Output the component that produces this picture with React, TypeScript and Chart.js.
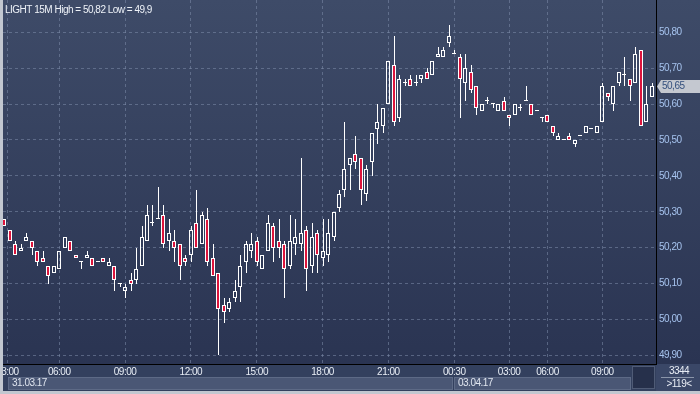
import React, { useEffect, useRef } from "react";
import { Chart, registerables } from "chart.js";

Chart.register(...registerables);

// ---- DATA (15-minute candles, oldest first) ----
const opens = [
  50.28, 50.25, 50.21, 50.19, 50.22, 50.22, 50.19, 50.17, 50.15, 50.13,
  50.14, 50.20, 50.22, 50.18, 50.16, 50.17, 50.17, 50.16, 50.17, 50.15,
  50.15, 50.10, 50.08, 50.11, 50.11, 50.15, 50.22, 50.27, 50.28, 50.29,
  50.22, 50.22, 50.21, 50.17, 50.18, 50.27, 50.21, 50.28, 50.17, 50.13,
  50.04, 50.03, 50.06, 50.09, 50.16, 50.19, 50.22, 50.14, 50.19, 50.26,
  50.22, 50.21, 50.15, 50.21, 50.21, 50.25, 50.15, 50.24, 50.17, 50.18,
  50.23, 50.31, 50.36, 50.43, 50.46, 50.45, 50.35, 50.44, 50.53, 50.54,
  50.60, 50.71, 50.56, 50.66, 50.67, 50.66, 50.67, 50.69, 50.68, 50.73,
  50.73, 50.77, 50.74, 50.73, 50.66, 50.69, 50.65, 50.58, 50.61, 50.60,
  50.58, 50.61, 50.57, 50.57, 50.59, 50.61, 50.60, 50.58, 50.56, 50.57,
  50.54, 50.50, 50.50, 50.51, 50.49, 50.51, 50.52, 50.53, 50.52, 50.55,
  50.63, 50.60, 50.66, 50.68, 50.67, 50.66, 50.75, 50.55, 50.62,
];
const highs = [
  50.28, 50.25, 50.22, 50.21, 50.24, 50.22, 50.19, 50.19, 50.15, 50.15,
  50.19, 50.23, 50.22, 50.18, 50.16, 50.19, 50.17, 50.16, 50.17, 50.17,
  50.15, 50.10, 50.10, 50.13, 50.20, 50.26, 50.32, 50.32, 50.37, 50.32,
  50.28, 50.25, 50.21, 50.18, 50.26, 50.36, 50.30, 50.31, 50.21, 50.13,
  50.06, 50.06, 50.11, 50.18, 50.22, 50.24, 50.23, 50.18, 50.29, 50.27,
  50.28, 50.22, 50.29, 50.28, 50.45, 50.26, 50.27, 50.25, 50.28, 50.28,
  50.30, 50.36, 50.55, 50.45, 50.51, 50.45, 50.43, 50.52, 50.60, 50.59,
  50.72, 50.79, 50.68, 50.67, 50.68, 50.68, 50.68, 50.70, 50.72, 50.76,
  50.76, 50.82, 50.75, 50.74, 50.74, 50.71, 50.65, 50.60, 50.62, 50.60,
  50.60, 50.62, 50.57, 50.60, 50.60, 50.65, 50.60, 50.58, 50.56, 50.57,
  50.54, 50.52, 50.50, 50.52, 50.50, 50.51, 50.54, 50.53, 50.54, 50.66,
  50.63, 50.65, 50.69, 50.73, 50.67, 50.76, 50.75, 50.65, 50.66,
];
const lows = [
  50.26, 50.22, 50.18, 50.19, 50.22, 50.18, 50.15, 50.16, 50.10, 50.13,
  50.14, 50.20, 50.19, 50.17, 50.14, 50.17, 50.15, 50.16, 50.16, 50.15,
  50.08, 50.09, 50.06, 50.08, 50.10, 50.15, 50.22, 50.26, 50.28, 50.20,
  50.19, 50.16, 50.11, 50.15, 50.16, 50.20, 50.21, 50.15, 50.12, 49.90,
  49.99, 50.02, 50.05, 50.05, 50.13, 50.17, 50.15, 50.14, 50.19, 50.16,
  50.17, 50.06, 50.14, 50.18, 50.19, 50.08, 50.13, 50.13, 50.15, 50.16,
  50.22, 50.30, 50.34, 50.36, 50.42, 50.32, 50.33, 50.40, 50.49, 50.52,
  50.60, 50.54, 50.55, 50.65, 50.65, 50.65, 50.66, 50.67, 50.68, 50.73,
  50.73, 50.76, 50.74, 50.56, 50.61, 50.63, 50.57, 50.58, 50.60, 50.59,
  50.58, 50.58, 50.54, 50.57, 50.58, 50.61, 50.57, 50.58, 50.55, 50.55,
  50.51, 50.50, 50.50, 50.50, 50.48, 50.51, 50.52, 50.53, 50.52, 50.55,
  50.61, 50.58, 50.65, 50.65, 50.61, 50.66, 50.54, 50.55, 50.62,
];
const closes = [
  50.26, 50.22, 50.18, 50.20, 50.23, 50.20, 50.16, 50.16, 50.12, 50.15,
  50.19, 50.23, 50.19, 50.17, 50.16, 50.18, 50.15, 50.16, 50.16, 50.16,
  50.11, 50.10, 50.09, 50.10, 50.14, 50.23, 50.29, 50.27, 50.28, 50.21,
  50.24, 50.20, 50.15, 50.16, 50.25, 50.20, 50.29, 50.16, 50.12, 50.03,
  50.02, 50.05, 50.08, 50.15, 50.21, 50.21, 50.16, 50.18, 50.27, 50.20,
  50.20, 50.14, 50.22, 50.23, 50.24, 50.14, 50.23, 50.18, 50.19, 50.24,
  50.30, 50.35, 50.42, 50.45, 50.44, 50.36, 50.42, 50.52, 50.55, 50.59,
  50.72, 50.55, 50.67, 50.66, 50.65, 50.66, 50.68, 50.67, 50.72, 50.74,
  50.75, 50.79, 50.74, 50.67, 50.70, 50.64, 50.59, 50.60, 50.61, 50.60,
  50.60, 50.58, 50.56, 50.60, 50.59, 50.61, 50.57, 50.58, 50.56, 50.55,
  50.52, 50.51, 50.50, 50.50, 50.50, 50.51, 50.54, 50.53, 50.54, 50.65,
  50.62, 50.65, 50.69, 50.68, 50.65, 50.74, 50.54, 50.60, 50.65,
];

// time-axis ticks (candle index positions) and labels
const timeTickIndex = [0.55, 10, 22, 34, 46, 58, 70, 82, 92, 99, 109];
const timeTickLabels = ["03:00", "06:00", "09:00", "12:00", "15:00", "18:00", "21:00", "00:30", "03:00", "06:00", "09:00"];
// date bar
const dateLabels = ["31.03.17", "03.04.17"];
const dateStartIndex = [-0.25, 82];
// price axis ticks
const priceTicks = [49.9, 50.0, 50.1, 50.2, 50.3, 50.4, 50.5, 50.6, 50.7, 50.8];
const symbolName = "LIGHT 15M";
const infoTotalBars = "3344";
const visibleBars = opens.length;

// view range
const X_MIN = -0.246;
const X_MAX = 118.78;
const Y_MIN = 49.876;
const Y_MAX = 50.89;

const FONT = "'Liberation Sans', Arial, sans-serif";
const FONT_SIZE = 10;
const RED = "#dc143c";
const GRID = "rgba(125,140,170,0.55)";

const fmt = (v: number) => String(+v.toFixed(2)).replace(".", ",");

// pixel-snap candle parts (positions still come from the chart scales)
const snapPlugin = {
  id: "snap",
  afterDatasetsUpdate(chart: any) {
    for (let d = 0; d < 3; d++) {
      const meta = chart.getDatasetMeta(d);
      meta.data.forEach((el: any) => {
        const X = Math.round(el.x);
        el.x = d === 2 ? X : X + 0.5;
        let t = Math.round(Math.min(el.y, el.base));
        let b = Math.round(Math.max(el.y, el.base));
        if (d === 2 && b - t < 1) b = t + 1;
        el.y = t;
        el.base = b;
      });
    }
  },
};

const textStylePlugin = {
  id: "textStyle",
  beforeDraw(chart: any) {
    chart.ctx.letterSpacing = "-0.5px";
  },
};

const framePlugin = {
  id: "frame",
  beforeDraw(chart: any) {
    const { ctx, chartArea: a, width, height } = chart;
    const xs = chart.scales.x;
    ctx.save();
    // outer frame
    ctx.fillStyle = "#c2c7d0";
    ctx.fillRect(0, 0, width, height);
    // plot + price axis gradient
    const g = ctx.createLinearGradient(0, a.top, 0, a.bottom);
    g.addColorStop(0, "#3e4b68");
    g.addColorStop(1, "#2a3452");
    ctx.fillStyle = g;
    ctx.fillRect(a.left, 0, width - a.left, a.bottom);
    // time axis strip
    ctx.fillStyle = "#33405e";
    ctx.fillRect(a.left, a.bottom, width - a.left, height - 3 - a.bottom);
    // date bar boxes
    const boxTop = a.bottom + 13;
    const boxH = 13;
    const d1 = Math.round(xs.getPixelForValue(dateStartIndex[1])) - 1;
    const boxEnd = 632;
    ctx.fillStyle = "#4a5775";
    ctx.fillRect(8, boxTop, d1 - 8, boxH);
    ctx.fillRect(d1 + 1, boxTop, boxEnd - d1 - 2, boxH);
    ctx.strokeStyle = "#5d6a86";
    ctx.lineWidth = 1;
    ctx.strokeRect(8.5, boxTop + 0.5, d1 - 9, boxH - 1);
    ctx.strokeRect(d1 + 1.5, boxTop + 0.5, boxEnd - d1 - 3, boxH - 1);
    // dark scroll box
    ctx.fillStyle = "#26304b";
    ctx.fillRect(boxEnd, a.bottom + 2, a.right - boxEnd - 1, height - 5 - a.bottom - 2);
    ctx.strokeStyle = "#4f5b76";
    ctx.strokeRect(boxEnd + 0.5, a.bottom + 2.5, a.right - boxEnd - 2, height - 5 - a.bottom - 3);
    // info cell
    ctx.fillStyle = "#3a4767";
    ctx.fillRect(a.right, a.bottom, width - a.right, height - 3 - a.bottom);
    ctx.strokeStyle = "#8a95aa";
    ctx.beginPath();
    ctx.moveTo(a.right + 5, a.bottom + 13.5);
    ctx.lineTo(width - 6, a.bottom + 13.5);
    ctx.stroke();
    ctx.fillStyle = "#e8edf5";
    ctx.font = `${FONT_SIZE}px ${FONT}`;
    ctx.textAlign = "center";
    ctx.textBaseline = "middle";
    ctx.fillText(infoTotalBars, (a.right + width) / 2 + 1, a.bottom + 7.5);
    ctx.fillText(`>${visibleBars}<`, (a.right + width) / 2 + 1, a.bottom + 20);
    // date labels
    ctx.textAlign = "left";
    ctx.fillStyle = "#dfe5ef";
    ctx.fillText(dateLabels[0], 12, boxTop + 6.5);
    ctx.fillText(dateLabels[1], d1 + 5, boxTop + 6.5);
    ctx.restore();
  },
  afterDraw(chart: any) {
    const { ctx, chartArea: a, width, height } = chart;
    const ys = chart.scales.y;
    ctx.save();
    // left and bottom frame on top
    ctx.fillStyle = "#c2c7d0";
    ctx.fillRect(0, 0, a.left, height);
    ctx.fillRect(0, height - 3, width, 3);
    // header
    const hi = Math.max(...highs);
    const lo = Math.min(...lows);
    ctx.font = `${FONT_SIZE}px ${FONT}`;
    ctx.fillStyle = "#eef2f8";
    ctx.textAlign = "left";
    ctx.textBaseline = "alphabetic";
    ctx.fillText(`${symbolName} High = ${fmt(hi)} Low = ${fmt(lo)}`, 5, 12.5);
    // last price marker
    const last = closes[closes.length - 1];
    const y = Math.round(ys.getPixelForValue(last)) + 0.5;
    ctx.fillStyle = "#c4c8d0";
    ctx.beginPath();
    ctx.moveTo(a.right + 1, y);
    ctx.lineTo(a.right + 5, y - 6.5);
    ctx.lineTo(width, y - 6.5);
    ctx.lineTo(width, y + 6.5);
    ctx.lineTo(a.right + 5, y + 6.5);
    ctx.closePath();
    ctx.fill();
    ctx.fillStyle = "#34507e";
    ctx.textBaseline = "middle";
    ctx.fillText(last.toFixed(2).replace(".", ","), a.right + 6, y);
    ctx.restore();
    ctx.letterSpacing = "0px";
  },
};

export default function App() {
  const ref = useRef<HTMLCanvasElement>(null);
  useEffect(() => {
    document.body.style.margin = "0";
    const idx = opens.map((_, i) => i);
    const bodies = idx.map((i) => ({ x: i, y: [opens[i], closes[i]] }));
    const upper = idx.map((i) => ({ x: i, y: [Math.max(opens[i], closes[i]), highs[i]] }));
    const lower = idx.map((i) => ({ x: i, y: [lows[i], Math.min(opens[i], closes[i])] }));
    const common = { grouped: false, borderSkipped: false, inflateAmount: 0 };
    const chart = new Chart(ref.current as HTMLCanvasElement, {
      type: "bar",
      data: {
        datasets: [
          { ...common, data: upper as any, barThickness: 1, backgroundColor: "#ffffff", borderWidth: 0 } as any,
          { ...common, data: lower as any, barThickness: 1, backgroundColor: "#ffffff", borderWidth: 0 } as any,
          {
            ...common,
            data: bodies as any,
            barThickness: 4,
            minBarLength: 1,
            borderWidth: 1,
            borderColor: "#ffffff",
            backgroundColor: idx.map((i) => (closes[i] < opens[i] ? RED : "rgba(0,0,0,0)")),
          } as any,
        ],
      },
      options: {
        responsive: false,
        animation: false,
        devicePixelRatio: 1,
        events: [],
        layout: { padding: { left: 3, top: 0, right: 0, bottom: 0 } },
        plugins: { legend: { display: false }, tooltip: { enabled: false } },
        scales: {
          x: {
            type: "linear",
            min: X_MIN,
            max: X_MAX,
            offset: false,
            grid: { offset: false, color: GRID, lineWidth: 1, drawTicks: false },
            border: { display: true, color: "#000000", width: 1, dash: [3, 3] },
            ticks: {
              autoSkip: false,
              maxRotation: 0,
              minRotation: 0,
              padding: 2,
              color: "#e8edf5",
              font: { family: FONT, size: FONT_SIZE },
              callback: (_v: any, i: number) => timeTickLabels[i] ?? "",
            },
            afterBuildTicks: (s: any) => {
              s.ticks = timeTickIndex.map((v) => ({ value: v }));
            },
            afterFit: (s: any) => {
              s.height = 30;
              s.paddingLeft = 0;
              s.paddingRight = 0;
            },
          } as any,
          y: {
            position: "right",
            min: Y_MIN,
            max: Y_MAX,
            beginAtZero: false,
            grid: { color: GRID, lineWidth: 1, drawTicks: false },
            border: { display: true, color: "#000000", width: 1, dash: [3, 3] },
            ticks: {
              padding: 3,
              color: "#a6c3ee",
              font: { family: FONT, size: FONT_SIZE },
              callback: (v: any) => Number(v).toFixed(2).replace(".", ","),
            },
            afterBuildTicks: (s: any) => {
              s.ticks = priceTicks.map((v) => ({ value: v }));
            },
            afterFit: (s: any) => {
              s.width = 44;
              s.paddingTop = 0;
              s.paddingBottom = 0;
            },
          } as any,
        },
      },
      plugins: [textStylePlugin, snapPlugin, framePlugin],
    });
    return () => chart.destroy();
  }, []);
  return (
    <div style={{ width: 700, height: 394 }}>
      <canvas ref={ref} width={700} height={394} style={{ display: "block" }} />
    </div>
  );
}
